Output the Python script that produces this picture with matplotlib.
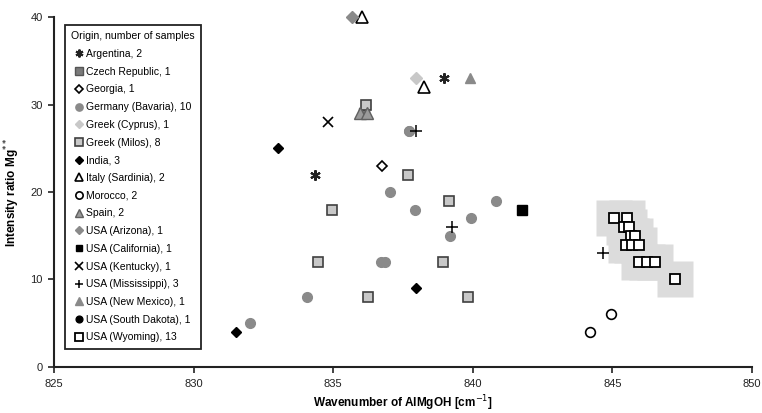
import matplotlib
matplotlib.use("Agg")
import matplotlib.pyplot as plt

plt.rcParams["font.family"] = ["Liberation Sans", "DejaVu Sans"]

# valeurs (nombre d'onde, rapport d'intensité)
argentina_x = [838.97, 834.33]
argentina_y = [33, 22]
czech_x = [836.1]
czech_y = [29]
georgia_x = [836.75]
georgia_y = [23]
germany_x = [837.72, 837.05, 837.94, 840.84, 839.93, 839.2, 836.72, 836.87, 834.07, 832.03]
germany_y = [27, 20, 18, 19, 17, 15, 12, 12, 8, 5]
cyprus_x = [837.96]
cyprus_y = [33]
milos_x = [836.16, 837.69, 834.94, 839.13, 838.92, 834.47, 836.25, 839.83]
milos_y = [30, 22, 18, 19, 12, 12, 8, 8]
india_x = [833.03, 837.96, 831.52]
india_y = [25, 9, 4]
italy_x = [836.04, 838.24]
italy_y = [40, 32]
morocco_x = [844.96, 844.19]
morocco_y = [6, 4]
spain_x = [835.96, 836.2]
spain_y = [29, 29]
arizona_x = [835.69]
arizona_y = [40]
california_x = [841.76]
california_y = [18]
kentucky_x = [834.8]
kentucky_y = [28]
mississippi_x = [837.98, 839.24, 844.65]
mississippi_y = [27, 16, 13]
new_mexico_x = [839.9]
new_mexico_y = [33]
south_dakota_x = [837.72]
south_dakota_y = [27]
wyoming_x = [845.07, 845.51, 845.4, 845.6, 845.67, 845.8, 845.49, 845.69, 845.96,
             845.96, 846.25, 846.53, 847.23]
wyoming_y = [17, 17, 16, 16, 15, 15, 14, 14, 14, 12, 12, 12, 10]

labels = ["Argentina, 2", "Czech Republic, 1", "Georgia, 1", "Germany (Bavaria), 10",
          "Greek (Cyprus), 1", "Greek (Milos), 8", "India, 3", "Italy (Sardinia), 2",
          "Morocco, 2", "Spain, 2", "USA (Arizona), 1", "USA (California), 1",
          "USA (Kentucky), 1", "USA (Mississippi), 3", "USA (New Mexico), 1",
          "USA (South Dakota), 1", "USA (Wyoming), 13"]

fig = plt.figure(figsize=(7.62, 4.13), dpi=100)
ax = fig.add_axes([0.0709, 0.1114, 0.916, 0.8474])

# fond gris derrière les échantillons du Wyoming
ax.plot(wyoming_x, wyoming_y, ls="none", marker="s", ms=25.5, mfc="#dcdcdc",
        mec="none", zorder=1, clip_on=False)

kw = dict(ls="none", zorder=3, clip_on=False)
sd, = ax.plot(south_dakota_x, south_dakota_y, ls="none", marker="o", ms=6.5,
              mfc="black", mec="black", label=labels[15], zorder=2)
series = [
    (argentina_x, argentina_y, dict(marker=(6, 2, 0), ms=7.5, color="#222222", mew=1.5), labels[0]),
    (czech_x, czech_y, dict(marker="s", ms=7, mfc="#7a7a7a", mec="#555555", mew=1), labels[1]),
    (georgia_x, georgia_y, dict(marker="D", ms=5.5, mfc="white", mec="black", mew=1.2), labels[2]),
    (germany_x, germany_y, dict(marker="o", ms=7, mfc="#8a8a8a", mec="#8a8a8a"), labels[3]),
    (cyprus_x, cyprus_y, dict(marker="D", ms=6, mfc="#c8c8c8", mec="#c8c8c8"), labels[4]),
    (milos_x, milos_y, dict(marker="s", ms=7.5, mfc="#c8c8c8", mec="#404040", mew=1.2), labels[5]),
    (india_x, india_y, dict(marker="D", ms=5.5, mfc="black", mec="black"), labels[6]),
    (italy_x, italy_y, dict(marker="^", ms=8, mfc="white", mec="black", mew=1.2), labels[7]),
    (morocco_x, morocco_y, dict(marker="o", ms=7, mfc="white", mec="black", mew=1.2), labels[8]),
    (spain_x, spain_y, dict(marker="^", ms=8, mfc="#9a9a9a", mec="#606060", mew=1), labels[9]),
    (arizona_x, arizona_y, dict(marker="D", ms=6, mfc="#8a8a8a", mec="#8a8a8a"), labels[10]),
    (california_x, california_y, dict(marker="s", ms=6.5, mfc="black", mec="black"), labels[11]),
    (kentucky_x, kentucky_y, dict(marker="x", ms=7, color="black", mew=1.2), labels[12]),
    (mississippi_x, mississippi_y, dict(marker="+", ms=8, color="black", mew=1.1), labels[13]),
    (new_mexico_x, new_mexico_y, dict(marker="^", ms=7.5, mfc="#8a8a8a", mec="#8a8a8a"), labels[14]),
]
handles = {labels[15]: sd}
for xs, ys, st, lab in series:
    h, = ax.plot(xs, ys, label=lab, **kw, **st)
    handles[lab] = h
h, = ax.plot(wyoming_x, wyoming_y, ls="none", marker="s", ms=7.5, mfc="white",
             mec="black", mew=1.3, label=labels[16], zorder=4, clip_on=False)
handles[labels[16]] = h

ax.set_xlim(825, 850)
ax.set_ylim(0, 40)
ax.set_xticks([825, 830, 835, 840, 845, 850])
ax.set_yticks([0, 10, 20, 30, 40])
for s in ["top", "right"]:
    ax.spines[s].set_visible(False)
for s in ["left", "bottom"]:
    ax.spines[s].set_linewidth(1.5)
    ax.spines[s].set_color("#222222")
ax.tick_params(direction="out", length=4, width=1.2, labelsize=8, colors="#222222")
ax.tick_params(axis="x", pad=5)
ax.tick_params(axis="y", pad=4)
ax.set_xlabel("Wavenumber of AlMgOH [cm$^{-1}$]", fontsize=8.5, fontweight="bold", labelpad=3)
ax.set_ylabel("Intensity ratio Mg$^{**}$", fontsize=8.5, fontweight="bold", labelpad=6)

leg = ax.legend([handles[l] for l in labels], labels, loc="upper left",
                bbox_to_anchor=(0.0158, 0.977), borderaxespad=0, fontsize=7.5,
                title="Origin, number of samples", title_fontsize=7.6,
                fancybox=False, framealpha=1, edgecolor="#222222",
                handlelength=0.8, handletextpad=0.3, labelspacing=0.74,
                markerscale=0.75, borderpad=0.6)
leg.get_frame().set_linewidth(1.3)
leg.set_zorder(10)

plt.savefig("out.png", dpi=100)
plt.close()
